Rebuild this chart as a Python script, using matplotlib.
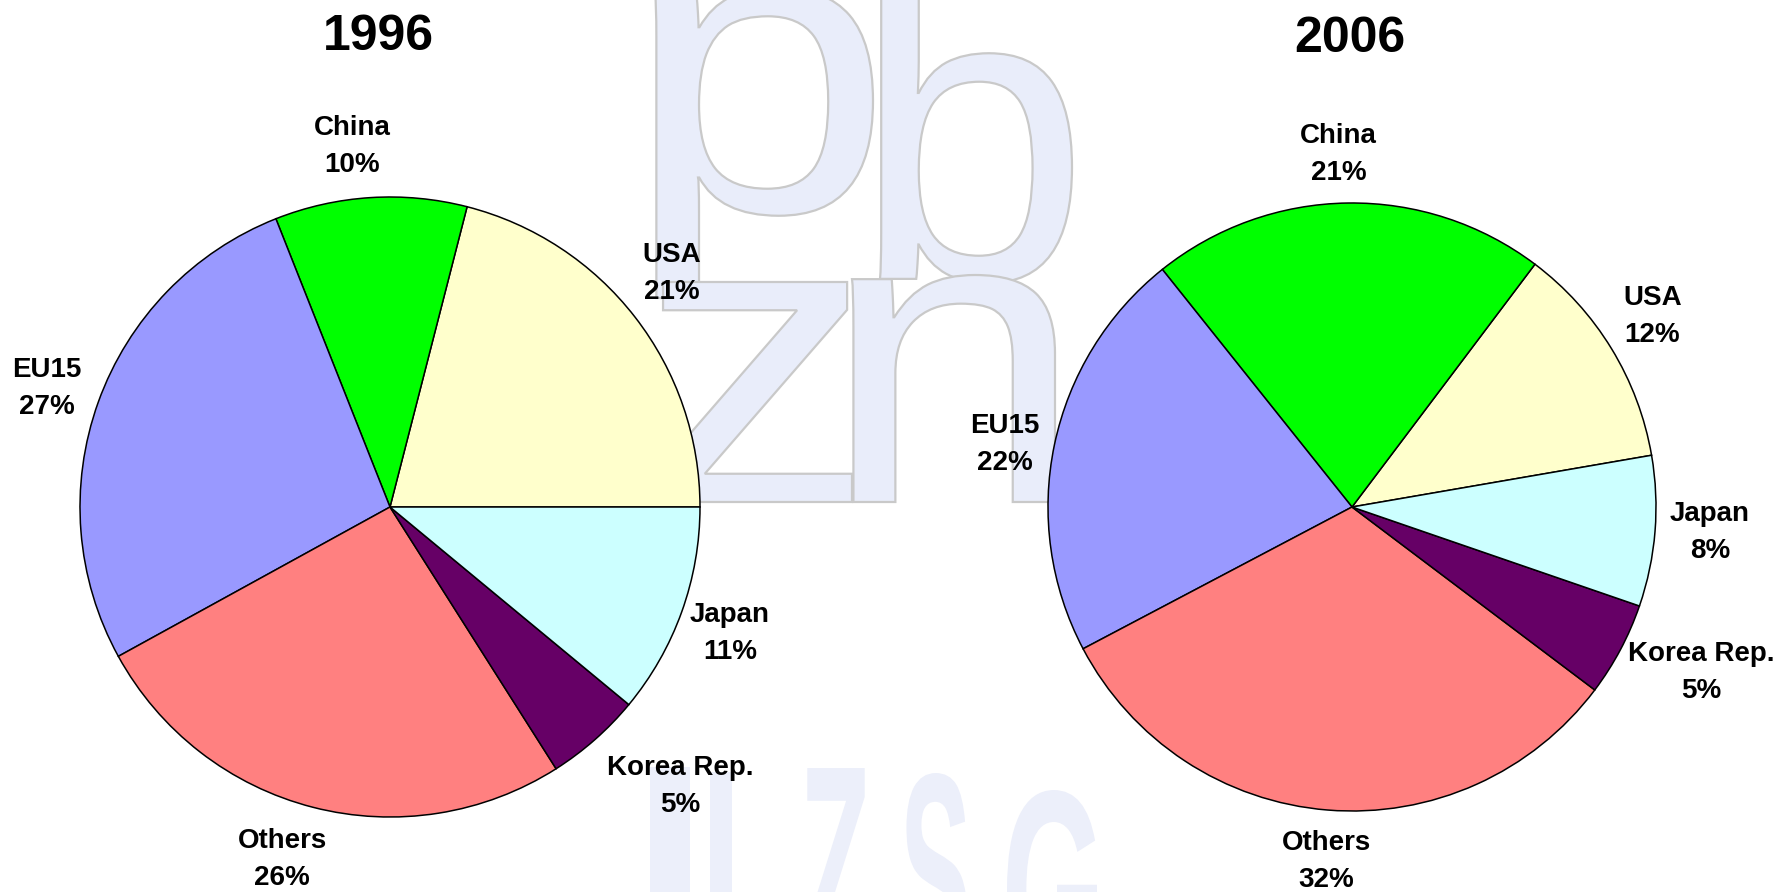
import numpy as np
import matplotlib
matplotlib.use("Agg")
import matplotlib.pyplot as plt
from matplotlib.textpath import TextPath
from matplotlib.patches import PathPatch
from matplotlib.font_manager import FontProperties
from matplotlib.transforms import Affine2D

# ---------------- data ----------------
categories = ["USA", "China", "EU15", "Others", "Korea Rep.", "Japan"]
share_1996 = [21, 10, 27, 26, 5, 11]
share_2006 = [12, 21, 22, 32, 5, 8]
years = ["1996", "2006"]
colors = ["#FFFFCC", "#00FF00", "#9999FF", "#FF8080", "#660066", "#CCFFFF"]

# ---------------- layout ----------------
W, H = 1783, 892
FONT = "Liberation Sans"
pies = [
    dict(values=share_1996, title=years[0], cx=390, cy=507, r=310, start=0.0,
         title_xy=(378, 37),
         dist=[1.18, 1.17, 1.17, 1.19, 1.30, 1.17],
         dang=[1.8, 2.4, 0.8, -2.6, 4.6, -0.6]),
    dict(values=share_2006, title=years[1], cx=1352, cy=507, r=304, start=9.8,
         title_xy=(1350, 39),
         dist=[1.17, 1.16, 1.16, 1.17, 1.27, 1.18],
         dang=[1.0, 1.4, 1.6, 0.5, 2.6, 0.5]),
]

fig = plt.figure(figsize=(W / 100, H / 100), dpi=100)
ax = fig.add_axes([0, 0, 1, 1])

def Y(yp):
    return H - yp

# ---------------- watermark ----------------
wm_fill = "#E9EDFA"
wm_edge = "#C9C9C9"

def glyph(ch, x0, x1, ytop, ybot, bold=False, edge=None, fill=wm_fill, z=0):
    fp = FontProperties(family=FONT, weight="bold" if bold else "normal")
    tp = TextPath((0, 0), ch, size=1, prop=fp)
    ext = tp.get_extents()
    sx = (x1 - x0) / ext.width
    sy = (ybot - ytop) / ext.height
    tr = Affine2D().translate(-ext.x0, -ext.y0).scale(sx, sy).translate(x0, Y(ybot))
    path = tr.transform_path(tp)
    patch = PathPatch(path, facecolor=fill,
                      edgecolor=edge if edge else "none",
                      lw=1.6 if edge else 0, zorder=z)
    ax.add_patch(patch)

glyph("p", 655, 873, -12, 298, edge=wm_edge)
glyph("b", 880, 1072, -25, 283, edge=wm_edge)
glyph("z", 655, 852, 282, 502, edge=wm_edge)
glyph("n", 852, 1055, 275, 502, edge=wm_edge)

wm_letters = ["I", "L", "Z", "S", "G"]
wm_x = [(650, 690), (710, 787), (803, 867), (903, 967), (1007, 1097)]
wm_top = [767, 772, 768, 773, 790]
for ch, (a, b), t in zip(wm_letters, wm_x, wm_top):
    glyph(ch, a, b, t, t + 200, bold=True, fill="#ECEFFA")

# ---------------- pies ----------------
for p in pies:
    vals = p["values"]
    ax.pie(vals, colors=colors, startangle=p["start"], counterclock=True,
           center=(p["cx"], Y(p["cy"])), radius=p["r"],
           wedgeprops=dict(edgecolor="black", linewidth=1.1, zorder=3))
    total = float(sum(vals))
    cum = p["start"]
    for i, (name, v) in enumerate(zip(categories, vals)):
        ang = cum + 360.0 * v / total / 2.0 + p["dang"][i]
        cum += 360.0 * v / total
        d = p["dist"][i] * p["r"]
        tx = p["cx"] + d * np.cos(np.radians(ang))
        ty = Y(p["cy"]) + d * np.sin(np.radians(ang))
        ax.text(tx, ty, f"{name}\n{v}%", ha="center", va="center",
                fontsize=20, fontweight="bold", family=FONT,
                linespacing=1.55, zorder=5)
    ax.text(p["title_xy"][0], Y(p["title_xy"][1]), p["title"], ha="center",
            va="center", fontsize=36, fontweight="bold", family=FONT, zorder=5)

ax.set_xlim(0, W)
ax.set_ylim(0, H)
ax.set_aspect("auto")
ax.axis("off")

fig.savefig("out.png", dpi=100, facecolor="white")
